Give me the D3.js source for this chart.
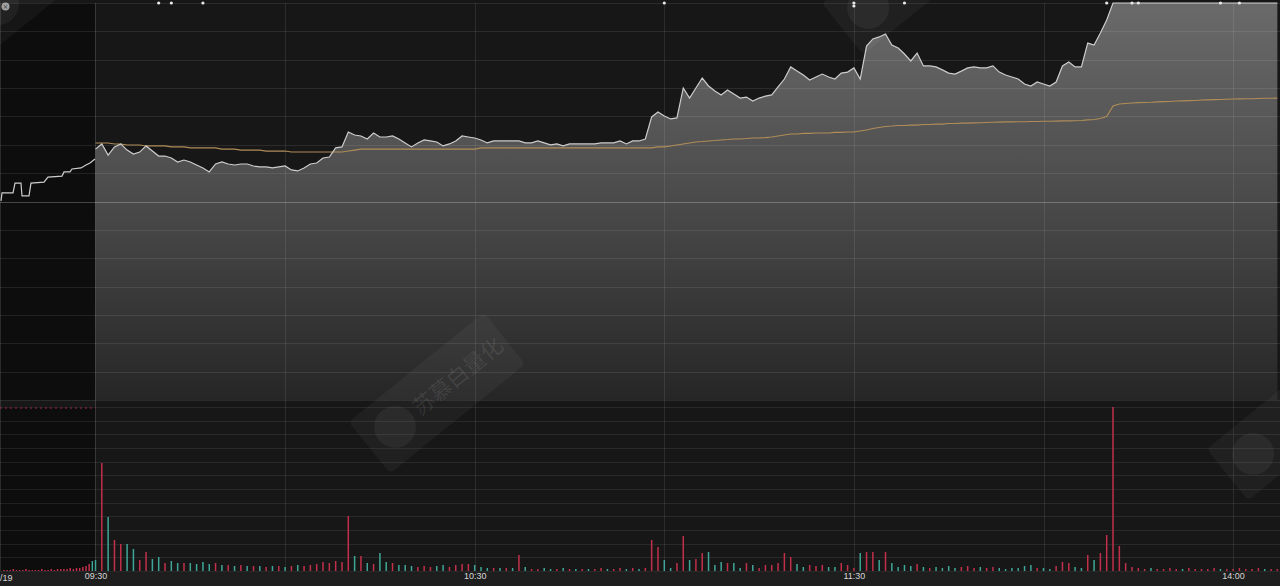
<!DOCTYPE html>
<html><head><meta charset="utf-8">
<script src="https://cdn.jsdelivr.net/npm/d3@7"></script>
<style>html,body{margin:0;padding:0;background:#171717;overflow:hidden}</style>
</head><body><svg id="c" width="1280" height="586"></svg>
<script>
// ---- data ----
const tickTimes = [0, 60, 120, 180];
const tickLabels = ["09:30", "10:30", "11:30", "14:00"];
const gridTimes = [0, 30, 60, 90, 120, 150, 180];
const dateLabel = "/19";
const eventTimes = [10, 12, 17, 90, 120, 120, 128, 160, 164, 165, 178, 181];

// pre-market (call auction) price, % change vs previous close
const preT = [-14.95,-14.79,-13.05,-12.74,-11.79,-11.63,-10.52,-10.21,-8.15,-7.52,-5.30,-4.98,-4.03,-3.72,-2.29,-1.50,-0.87,-0.08];
const prePct = [0.03,0.43,0.43,0.93,0.93,0.28,0.28,0.93,0.98,1.23,1.28,1.49,1.49,1.64,1.69,1.84,1.94,2.14];

// minute prices (% change), minute 0 = 09:30
const pricePct = [
2.64,2.90,2.34,2.75,2.90,2.59,2.39,2.49,2.80,2.54,
2.29,2.29,2.19,1.99,2.09,1.99,1.84,1.69,1.49,1.89,
1.99,1.89,1.84,1.89,1.89,1.79,1.74,1.74,1.69,1.74,
1.79,1.59,1.54,1.69,1.89,1.94,2.19,2.24,2.70,2.75,
3.50,3.35,3.30,3.15,3.45,3.25,3.25,3.30,3.15,2.95,
2.75,2.95,3.10,3.05,3.00,2.80,2.90,3.05,3.30,3.25,
3.20,3.10,2.95,3.05,3.05,3.05,3.05,3.05,2.95,2.95,
3.05,2.95,2.85,2.90,2.80,2.90,2.90,2.90,2.90,2.90,
2.95,2.95,2.95,3.05,2.90,3.05,3.05,3.15,4.26,4.51,
4.31,4.16,4.21,5.72,5.21,5.72,6.22,5.82,5.57,5.37,
5.62,5.42,5.21,5.26,5.06,5.21,5.31,5.37,5.77,6.17,
6.78,6.57,6.37,6.12,6.27,6.42,6.27,6.17,6.47,6.52,
6.73,6.17,7.83,8.19,8.29,8.44,7.88,7.73,7.43,7.08,
7.48,6.83,6.83,6.78,6.63,6.47,6.42,6.57,6.73,6.78,
6.73,6.73,6.83,6.52,6.37,6.27,6.17,5.92,5.82,6.02,
5.92,5.82,6.02,6.83,7.03,6.78,6.78,7.98,7.88,8.49,
9.14,10,10,10,10,10,10,10,10,10,
10,10,10,10,10,10,10,10,10,10,
10,10,10,10,10,10,10,10];

// average price line (% change)
const avgPct = [
2.95,2.95,2.95,2.90,2.90,2.85,2.85,2.85,2.80,2.80,
2.80,2.80,2.75,2.75,2.75,2.70,2.70,2.70,2.70,2.70,
2.64,2.64,2.64,2.59,2.59,2.59,2.59,2.54,2.54,2.54,
2.54,2.49,2.49,2.49,2.49,2.49,2.49,2.49,2.49,2.49,
2.54,2.59,2.64,2.64,2.64,2.64,2.64,2.64,2.64,2.64,
2.64,2.64,2.64,2.64,2.64,2.64,2.64,2.64,2.64,2.64,
2.64,2.70,2.70,2.70,2.70,2.70,2.70,2.70,2.70,2.70,
2.70,2.70,2.70,2.70,2.70,2.70,2.70,2.70,2.70,2.70,
2.70,2.70,2.70,2.70,2.70,2.70,2.70,2.70,2.70,2.75,
2.75,2.80,2.85,2.90,2.95,3.00,3.02,3.05,3.07,3.10,
3.12,3.15,3.15,3.17,3.20,3.20,3.22,3.25,3.30,3.35,
3.40,3.40,3.43,3.43,3.45,3.45,3.45,3.48,3.48,3.50,
3.50,3.55,3.60,3.68,3.73,3.78,3.80,3.83,3.83,3.85,
3.85,3.88,3.88,3.90,3.90,3.93,3.93,3.95,3.95,3.96,
3.97,3.98,3.99,4.00,4.01,4.01,4.02,4.02,4.03,4.03,
4.04,4.04,4.05,4.06,4.06,4.07,4.08,4.11,4.13,4.18,
4.28,4.81,4.91,4.94,4.96,4.98,4.99,5.00,5.02,5.03,
5.04,5.06,5.07,5.08,5.09,5.11,5.12,5.13,5.14,5.15,
5.16,5.17,5.18,5.18,5.19,5.20,5.20,5.21];

// minute volume (x100 lots)
const volume = [
11,108,54,31,27,27,22,11,19,12,
14,8,10,8,8,8,7,9,7,8,
6,6,5,6,5,5,5,4,5,5,
4,5,6,5,6,7,9,8,10,9,
55,15,15,8,7,18,9,8,6,6,
5,4,5,4,5,6,4,6,7,7,
6,4,3,3,3,3,3,16,4,2,
2,3,2,2,3,2,2,2,2,2,
3,2,2,3,2,3,2,3,31,24,
11,3,8,35,11,12,18,19,6,9,
8,8,3,8,6,3,6,6,8,18,
14,7,4,6,5,6,4,4,8,6,
3,18,19,19,11,19,8,4,6,5,
7,4,3,4,3,5,3,4,5,3,
4,3,4,3,2,3,3,5,6,3,
3,2,5,9,8,4,3,16,11,18,
36,164,25,8,4,3,2,3,2,2,
3,2,2,3,2,2,2,3,2,2,
2,3,2,2,3,2,2,2];
// u = up (red), d = down (green)
const volSide = ("duduudduud" + "dudduddddu" + "dududududu" + "duduuuuuuu" + "udududdudd" +
  "duuudduuuu" + "dddudududu" + "uddudududu" + "uduududuuu" + "dduuduuddd" +
  "udduduuuuu" + "udduuudduu" + "uduududddd" + "ududddduuu" + "duuddddddu" +
  "dduuuddudu" + "uuuuuuuduu" + "uuduuuuudu" + "uuuuuduu").split("");

const preVolT = [-14.5,-14,-13.5,-13,-12.5,-12,-11.5,-11,-10.5,-10,-9.5,-9,-8.5,-8,-7.5,-7,-6.5,-6,-5.5,-5,-4.5,-4,-3.5,-3,-2.5,-2,-1.5,-1,-0.5];
const preVol = [1,1,1,2,1,1,1,2,1,1,1,1,2,1,1,2,1,2,2,2,2,3,2,3,3,4,5,7,10];
const preVolSide = "uuuuuuuuuuuuuuuuuuuuuuuuuuuud".split("");

const watermarkText = "苏慕白量化";

// ---- chart ----
const W = 1280, H = 586;
const svg = d3.select("#c");
const priceTop = 3, priceBottom = 400, volTop = 407, volBottom = 571;
const x = d3.scaleLinear().domain([-15.11, 187.42]).range([0, W]);
const y = d3.scaleLinear().domain([-10, 10]).range([priceBottom, priceTop]);
const yv = d3.scaleLinear().domain([0, d3.max(volume)]).range([volBottom, volTop]);

const defs = svg.append("defs");
const grad = defs.append("linearGradient").attr("id", "fillG")
  .attr("gradientUnits", "userSpaceOnUse").attr("x1", 0).attr("x2", 0)
  .attr("y1", priceTop).attr("y2", priceBottom);
grad.append("stop").attr("offset", 0).attr("stop-color", "#6a6a6a");
grad.append("stop").attr("offset", 0.5).attr("stop-color", "#4a4a4a");
grad.append("stop").attr("offset", 1).attr("stop-color", "#262626");

// backgrounds
svg.append("rect").attr("x", 0).attr("y", 0).attr("width", W).attr("height", H).attr("fill", "#171717");
svg.append("rect").attr("x", 0).attr("y", volBottom + 1).attr("width", W).attr("height", H - volBottom).attr("fill", "#1e1e1e");
svg.append("rect").attr("x", 0).attr("y", priceTop).attr("width", x(0)).attr("height", priceBottom - priceTop).attr("fill", "#0d0d0d");
svg.append("rect").attr("x", 0).attr("y", volTop).attr("width", x(0)).attr("height", volBottom - volTop).attr("fill", "#0d0d0d");

// price fill
const area = d3.area().x((d, i) => x(i)).y0(y(-10)).y1(d => y(d));
svg.append("path").datum(pricePct).attr("d", area).attr("fill", "url(#fillG)");

// grid
const gPct = d3.range(-7, 8).map(k => k * 10 / 7);
svg.append("g").selectAll("line").data(gPct).join("line")
  .attr("x1", 0).attr("x2", W).attr("y1", d => Math.round(y(d)) + 0.5).attr("y2", d => Math.round(y(d)) + 0.5)
  .attr("stroke", d => Math.abs(d) < 1e-6 ? "rgba(255,255,255,0.24)" : "rgba(255,255,255,0.09)");
const vGrid = d3.range(0, 13).map(k => volTop + k * (volBottom - volTop) / 12);
svg.append("g").selectAll("line").data(vGrid).join("line")
  .attr("x1", 0).attr("x2", W).attr("y1", d => Math.round(d) + 0.5).attr("y2", d => Math.round(d) + 0.5)
  .attr("stroke", "rgba(255,255,255,0.08)");
svg.append("g").selectAll("line").data(gridTimes).join("line")
  .attr("x1", d => Math.round(x(d)) + 0.5).attr("x2", d => Math.round(x(d)) + 0.5)
  .attr("y1", priceTop).attr("y2", volBottom)
  .attr("stroke", d => d === 0 ? "rgba(255,255,255,0.16)" : "rgba(255,255,255,0.09)");
svg.append("line").attr("x1", 0.5).attr("x2", 0.5).attr("y1", priceTop).attr("y2", volBottom).attr("stroke", "rgba(255,255,255,0.12)");
svg.append("line").attr("x1", 0).attr("x2", x(0)).attr("y1", volTop + 1).attr("y2", volTop + 1)
  .attr("stroke", "#a02a40").attr("stroke-dasharray", "2,3");

// avg line
const line = d3.line().x((d, i) => x(i)).y(d => y(d));
svg.append("path").datum(avgPct).attr("d", line).attr("fill", "none").attr("stroke", "#b08d58").attr("stroke-width", 1.1);
// price line
svg.append("path").datum(pricePct).attr("d", line).attr("fill", "none").attr("stroke", "#cdcdcd").attr("stroke-width", 1.2);
// pre-market line
const preLine = d3.line().x(d => x(d[0])).y(d => y(d[1]));
svg.append("path").datum(preT.map((t, i) => [t, prePct[i]])).attr("d", preLine)
  .attr("fill", "none").attr("stroke", "#cdcdcd").attr("stroke-width", 1.2);

// volume bars
const up = "#c0304a", dn = "#3fa596";
svg.append("g").selectAll("rect").data(volume).join("rect")
  .attr("x", (d, i) => x(i) - 0.75).attr("width", 1.5)
  .attr("y", d => yv(d)).attr("height", d => volBottom - yv(d))
  .attr("fill", (d, i) => volSide[i] === "u" ? up : dn);
svg.append("g").selectAll("rect").data(preVol).join("rect")
  .attr("x", (d, i) => x(preVolT[i]) - 0.75).attr("width", 1.5)
  .attr("y", d => yv(d)).attr("height", d => volBottom - yv(d))
  .attr("fill", (d, i) => preVolSide[i] === "u" ? up : dn);

// event markers
const seen = {};
svg.append("g").selectAll("circle").data(eventTimes).join("circle")
  .attr("cx", d => x(d))
  .attr("cy", d => { seen[d] = (seen[d] || 0) + 1; return 3 + (seen[d] - 1) * 3; })
  .attr("r", 1.6).attr("fill", "#e8e8e8");

// x axis labels
const xAxis = d3.axisBottom(x).tickValues(tickTimes).tickFormat((d, i) => tickLabels[i]).tickSize(0).tickPadding(0);
const ax = svg.append("g").attr("transform", `translate(0,${volBottom + 2})`).call(xAxis);
ax.select(".domain").remove();
ax.selectAll("text").attr("fill", "#d6d6d6").attr("font-size", 9).attr("font-family", "Liberation Sans, Arial, sans-serif");
svg.append("text").attr("x", 0).attr("y", 581).attr("fill", "#d6d6d6").attr("font-size", 9)
  .attr("font-family", "Liberation Sans, Arial, sans-serif").text(dateLabel);

// top-left icon
svg.append("circle").attr("cx", 5.5).attr("cy", 6.5).attr("r", 4).attr("fill", "#9a9a9a");
svg.append("text").attr("x", 5.5).attr("y", 9).attr("text-anchor", "middle").attr("font-size", 7)
  .attr("font-family", "DejaVu Sans").attr("fill", "#333").text("×");

// watermarks on top (edge ones only partly visible, as in the source)
function watermarkShape(cx, cy) {
  const g = svg.append("g").attr("transform", `translate(${cx},${cy}) rotate(-39) scale(0.87)`).style("pointer-events", "none");
  g.append("rect").attr("x", -100).attr("y", -38).attr("width", 200).attr("height", 76).attr("rx", 6)
    .attr("fill", "rgba(255,255,255,0.04)");
  g.append("circle").attr("cx", -62).attr("cy", 0).attr("r", 24).attr("fill", "rgba(255,255,255,0.05)");
  return g;
}
watermarkShape(437, 393).append("text").attr("x", -32).attr("y", 9).attr("font-size", 25)
  .attr("font-family", "Noto Sans CJK SC").attr("fill", "rgba(255,255,255,0.09)").text(watermarkText);
watermarkShape(40, -30);
watermarkShape(910, -26);
watermarkShape(1295, 420);
</script></body></html>
